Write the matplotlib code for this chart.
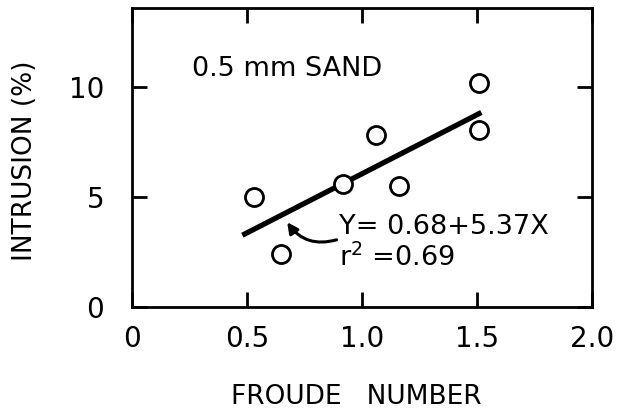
import matplotlib
matplotlib.use("Agg")
import matplotlib.pyplot as plt

# data
froude = [0.53, 0.65, 0.92, 1.06, 1.16, 1.51, 1.51]
intrusion = [5.0, 2.4, 5.6, 7.8, 5.5, 10.2, 8.05]
fit_a, fit_b = 0.68, 5.37
fit_x = [0.48, 1.52]
xticks = [0, 0.5, 1.0, 1.5, 2.0]
xticklabels = ["0", "0.5", "1.0", "1.5", "2.0"]
yticks = [0, 5, 10]

plt.rcParams['font.family'] = 'DejaVu Sans'

fig = plt.figure(figsize=(6.17, 4.13), dpi=100)
ax = fig.add_axes([0.214, 0.257, 0.745, 0.724])

fit_y = [fit_a + fit_b * x for x in fit_x]
ax.plot(fit_x, fit_y, color='black', lw=3.8, solid_capstyle='butt', zorder=2)
ax.plot(froude, intrusion, 'o', ms=13, mfc='white', mec='black', mew=2.0, zorder=3)

ax.set_xlim(0, 1.98)
ax.set_ylim(0, 13.6)
ax.set_xticks(xticks)
ax.set_xticklabels(xticklabels)
ax.set_yticks(yticks)
ax.tick_params(direction='in', length=11, width=2, top=True, right=True,
               labelsize=20)
ax.tick_params(axis='x', pad=13)
ax.tick_params(axis='y', pad=20)
for s in ax.spines.values():
    s.set_linewidth(2)

ax.text(0.26, 10.8, "0.5 mm SAND", fontsize=19.5, va='center', ha='left')
ax.text(0.9, 3.65, "Y= 0.68+5.37X", fontsize=19.5, va='center', ha='left')
ax.text(0.9, 2.22, "r$^2$ =0.69", fontsize=19.5, va='center', ha='left')
ax.annotate("", xy=(0.675, 3.85), xytext=(0.89, 3.05),
            arrowprops=dict(arrowstyle='-|>', color='black', lw=2.2,
                            connectionstyle='arc3,rad=-0.35', shrinkA=0, shrinkB=0,
                            mutation_scale=16))

ax.set_xlabel("FROUDE   NUMBER", fontsize=19)
ax.set_ylabel("INTRUSION (%)", fontsize=19)
ax.xaxis.set_label_coords(0.487, -0.257)
ax.yaxis.set_label_coords(-0.205, 0.49)

fig.savefig("out.png", dpi=100)
